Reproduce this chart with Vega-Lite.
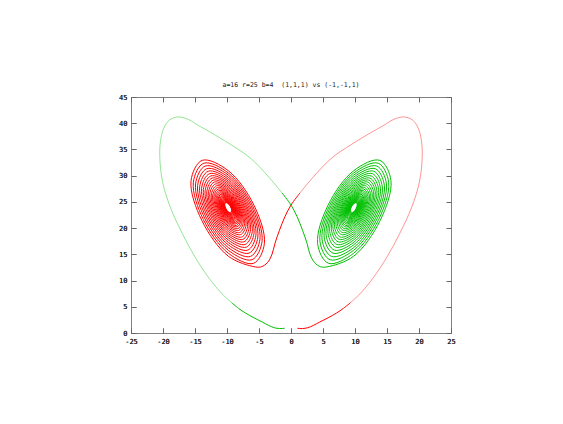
{
"$schema": "https://vega.github.io/schema/vega-lite/v6.json",
"width": 320,
"height": 236,
"autosize": {"type": "none"},
"padding": {"left": 131, "top": 97, "right": 112, "bottom": 91},
"background": "white",
"title": {"text": "a=16 r=25 b=4\u00a0 (1,1,1) vs (-1,-1,1)", "font": "DejaVu Sans Mono", "fontSize": 6.5, "fontWeight": "normal", "color": "#222222", "offset": 5},
"data": {"values": "traj,seg,x,z\npos,a,1.0,0.9\npos,a,1.8,0.85\npos,a,2.6,1.0\npos,a,3.5,1.45\npos,a,4.5,2.1\npos,a,5.8,2.9\npos,a,7.1,3.8\npos,a,8.2,4.7\npos,a,9.3,5.8\npos,b,9.3,5.8\npos,b,10.8,7.5\npos,b,12.9,10.6\npos,b,15.0,14.5\npos,b,17.0,19.0\npos,b,18.9,24.1\npos,b,20.1,29.0\npos,b,20.5,33.5\npos,b,20.4,36.5\npos,b,19.9,39.0\npos,b,19.0,40.6\npos,b,17.6,41.2\npos,b,16.0,40.7\npos,b,14.5,39.6\npos,b,12.9,38.5\npos,b,9.5,36.0\npos,b,6.3,33.3\npos,b,3.3,29.5\npos,b,1.4,26.7\npos,c,1.4,26.7\npos,c,0,24.4\npos,c,-0.94,22.2\npos,c,-1.8,19.6\npos,c,-2.5,17.1\npos,c,-3.0,14.9\npos,c,-3.7,13.4\npos,c,-4.58,12.65\npos,c,-5.59,12.60\npos,c,-9.8,14.65\npos,c,-13.94,21.47\npos,c,-15.62,29.02\npos,c,-13.88,32.92\npos,c,-9.8,30.95\npos,c,-5.78,24.35\npos,c,-4.16,17.05\npos,c,-5.85,13.29\npos,c,-9.8,15.22\npos,c,-13.69,21.62\npos,c,-15.26,28.72\npos,c,-13.63,32.37\npos,c,-9.8,30.52\npos,c,-6.04,24.33\npos,c,-4.52,17.49\npos,c,-6.10,13.97\npos,c,-9.8,15.78\npos,c,-13.44,21.77\npos,c,-14.91,28.42\npos,c,-13.39,31.84\npos,c,-9.8,30.11\npos,c,-6.27,24.31\npos,c,-4.85,17.89\npos,c,-6.33,14.60\npos,c,-9.8,16.29\npos,c,-13.21,21.91\npos,c,-14.59,28.13\npos,c,-13.16,31.33\npos,c,-9.8,29.71\npos,c,-6.50,24.29\npos,c,-5.18,18.30\npos,c,-6.56,15.23\npos,c,-9.8,16.81\npos,c,-12.99,22.05\npos,c,-14.27,27.86\npos,c,-12.93,30.85\npos,c,-9.8,29.33\npos,c,-6.72,24.27\npos,c,-5.48,18.67\npos,c,-6.77,15.80\npos,c,-9.8,17.28\npos,c,-12.78,22.18\npos,c,-13.97,27.60\npos,c,-12.72,30.39\npos,c,-9.8,28.97\npos,c,-6.93,24.25\npos,c,-5.78,19.04\npos,c,-6.98,16.37\npos,c,-9.8,17.74\npos,c,-12.57,22.31\npos,c,-13.69,27.36\npos,c,-12.52,29.95\npos,c,-9.8,28.63\npos,c,-7.12,24.24\npos,c,-6.05,19.37\npos,c,-7.17,16.88\npos,c,-9.8,18.17\npos,c,-12.38,22.42\npos,c,-13.42,27.13\npos,c,-12.33,29.54\npos,c,-9.8,28.31\npos,c,-7.31,24.22\npos,c,-6.32,19.70\npos,c,-7.36,17.39\npos,c,-9.8,18.58\npos,c,-12.20,22.53\npos,c,-13.16,26.90\npos,c,-12.16,29.15\npos,c,-9.8,28.01\npos,c,-7.49,24.20\npos,c,-6.56,20.00\npos,c,-7.53,17.85\npos,c,-9.8,18.96\npos,c,-12.03,22.64\npos,c,-12.92,26.70\npos,c,-11.99,28.78\npos,c,-9.8,27.72\npos,c,-7.65,24.19\npos,c,-6.80,20.29\npos,c,-7.70,18.30\npos,c,-9.8,19.34\npos,c,-11.86,22.74\npos,c,-12.69,26.49\npos,c,-11.82,28.41\npos,c,-9.8,27.43\npos,c,-7.82,24.17\npos,c,-7.03,20.59\npos,c,-7.87,18.76\npos,c,-9.8,19.71\npos,c,-11.70,22.84\npos,c,-12.46,26.30\npos,c,-11.66,28.07\npos,c,-9.8,27.16\npos,c,-7.98,24.16\npos,c,-7.25,20.85\npos,c,-8.01,19.16\npos,c,-9.8,20.04\npos,c,-11.55,22.93\npos,c,-12.25,26.12\npos,c,-11.51,27.75\npos,c,-9.8,26.91\npos,c,-8.12,24.15\npos,c,-7.45,21.11\npos,c,-8.16,19.56\npos,c,-9.8,20.36\npos,c,-11.41,23.02\npos,c,-12.05,25.95\npos,c,-11.38,27.45\npos,c,-9.8,26.68\npos,c,-8.25,24.14\npos,c,-7.64,21.33\npos,c,-8.29,19.90\npos,c,-9.8,20.64\npos,c,-11.28,23.09\npos,c,-11.88,25.79\npos,c,-11.25,27.17\npos,c,-9.8,26.46\npos,c,-8.38,24.13\npos,c,-7.81,21.55\npos,c,-8.41,20.24\npos,c,-9.8,20.92\npos,c,-11.16,23.17\npos,c,-11.71,25.65\npos,c,-11.14,26.92\npos,c,-9.8,26.27\npos,c,-8.49,24.12\npos,c,-7.97,21.74\npos,c,-8.52,20.52\npos,c,-9.8,21.16\npos,c,-11.06,23.23\npos,c,-11.56,25.52\npos,c,-11.03,26.69\npos,c,-9.8,26.09\npos,c,-8.60,24.11\npos,c,-8.12,21.92\npos,c,-8.62,20.81\npos,c,-9.8,21.39\npos,c,-10.96,23.29\npos,c,-11.42,25.40\npos,c,-10.94,26.48\npos,c,-9.8,25.93\npos,c,-8.69,24.10\npos,c,-8.24,22.07\npos,c,-8.71,21.04\npos,c,-9.8,21.57\npos,c,-10.87,23.34\npos,c,-11.30,25.30\npos,c,-10.85,26.30\npos,c,-9.8,25.79\npos,c,-8.77,24.09\npos,c,-8.36,22.22\npos,c,-8.79,21.27\npos,c,-9.8,21.76\npos,c,-10.79,23.40\npos,c,-11.18,25.20\npos,c,-10.77,26.12\npos,c,-9.8,25.64\npos,c,-8.85,24.08\npos,c,-8.48,22.37\npos,c,-8.87,21.49\npos,c,-9.8,21.95\npos,c,-10.71,23.44\npos,c,-11.08,25.10\npos,c,-10.69,25.95\npos,c,-9.8,25.52\npos,c,-8.92,24.08\npos,c,-8.57,22.48\npos,c,-8.94,21.66\npos,c,-9.8,22.09\npos,c,-10.65,23.48\npos,c,-10.99,25.02\npos,c,-10.63,25.82\npos,c,-9.8,25.41\npos,c,-8.98,24.07\npos,c,-8.66,22.59\npos,c,-9.00,21.83\npos,c,-9.8,22.23\npos,c,-10.58,23.52\npos,c,-10.90,24.95\npos,c,-10.57,25.68\npos,c,-9.8,25.30\npos,c,-9.05,24.07\npos,c,-8.75,22.70\npos,c,-9.06,22.01\npos,c,-9.8,22.37\npos,c,-10.52,23.56\npos,c,-10.81,24.87\npos,c,-10.50,25.54\npos,c,-9.8,25.20\npos,c,-9.11,24.06\npos,c,-8.84,22.81\npos,c,-9.13,22.18\npos,c,-9.8,22.51\npos,c,-10.46,23.60\npos,c,-10.73,24.80\npos,c,-10.45,25.42\npos,c,-9.8,25.10\npos,c,-9.16,24.06\npos,c,-8.91,22.90\npos,c,-9.18,22.31\npos,c,-9.8,22.62\npos,c,-10.41,23.63\npos,c,-10.65,24.74\npos,c,-10.40,25.31\npos,c,-9.8,25.01\npos,c,-9.22,24.05\npos,c,-8.98,22.99\npos,c,-9.23,22.45\npos,c,-9.8,22.73\npos,c,-10.36,23.66\npos,c,-10.59,24.68\npos,c,-10.35,25.20\npos,c,-9.8,24.93\npos,c,-9.26,24.05\npos,c,-9.05,23.07\npos,c,-9.27,22.58\npos,c,-9.8,22.83\npos,c,-10.32,23.69\npos,c,-10.52,24.62\npos,c,-10.30,25.10\npos,c,-9.8,24.86\npos,c,-9.31,24.04\npos,c,-9.11,23.15\npos,c,-9.32,22.69\npos,c,-9.8,22.93\npos,c,-10.27,23.71\npos,c,-10.46,24.57\npos,c,-10.26,25.01\npos,c,-9.8,24.79\npos,c,-9.35,24.04\npos,c,-9.17,23.22\npos,c,-9.36,22.80\npos,c,-9.8,23.02\npos,c,-10.23,23.74\npos,c,-10.40,24.52\npos,c,-10.22,24.92\npos,c,-9.8,24.71\npos,c,-9.39,24.04\npos,c,-9.23,23.29\npos,c,-9.40,22.92\npos,c,-9.8,23.11\npos,c,-10.19,23.76\npos,c,-10.35,24.48\npos,c,-10.19,24.84\npos,c,-9.8,24.65\npos,c,-9.42,24.03\npos,c,-9.27,23.35\npos,c,-9.43,23.00\nneg,a,-1.0,0.9\nneg,a,-1.8,0.85\nneg,a,-2.6,1.0\nneg,a,-3.5,1.45\nneg,a,-4.5,2.1\nneg,a,-5.8,2.9\nneg,a,-7.1,3.8\nneg,a,-8.2,4.7\nneg,a,-9.3,5.8\nneg,b,-9.3,5.8\nneg,b,-10.8,7.5\nneg,b,-12.9,10.6\nneg,b,-15.0,14.5\nneg,b,-17.0,19.0\nneg,b,-18.9,24.1\nneg,b,-20.1,29.0\nneg,b,-20.5,33.5\nneg,b,-20.4,36.5\nneg,b,-19.9,39.0\nneg,b,-19.0,40.6\nneg,b,-17.6,41.2\nneg,b,-16.0,40.7\nneg,b,-14.5,39.6\nneg,b,-12.9,38.5\nneg,b,-9.5,36.0\nneg,b,-6.3,33.3\nneg,b,-3.3,29.5\nneg,b,-1.4,26.7\nneg,c,-1.4,26.7\nneg,c,0,24.4\nneg,c,0.94,22.2\nneg,c,1.8,19.6\nneg,c,2.5,17.1\nneg,c,3.0,14.9\nneg,c,3.7,13.4\nneg,c,4.58,12.65\nneg,c,5.59,12.60\nneg,c,9.8,14.65\nneg,c,13.94,21.47\nneg,c,15.62,29.02\nneg,c,13.88,32.92\nneg,c,9.8,30.95\nneg,c,5.78,24.35\nneg,c,4.16,17.05\nneg,c,5.85,13.29\nneg,c,9.8,15.22\nneg,c,13.69,21.62\nneg,c,15.26,28.72\nneg,c,13.63,32.37\nneg,c,9.8,30.52\nneg,c,6.04,24.33\nneg,c,4.52,17.49\nneg,c,6.10,13.97\nneg,c,9.8,15.78\nneg,c,13.44,21.77\nneg,c,14.91,28.42\nneg,c,13.39,31.84\nneg,c,9.8,30.11\nneg,c,6.27,24.31\nneg,c,4.85,17.89\nneg,c,6.33,14.60\nneg,c,9.8,16.29\nneg,c,13.21,21.91\nneg,c,14.59,28.13\nneg,c,13.16,31.33\nneg,c,9.8,29.71\nneg,c,6.50,24.29\nneg,c,5.18,18.30\nneg,c,6.56,15.23\nneg,c,9.8,16.81\nneg,c,12.99,22.05\nneg,c,14.27,27.86\nneg,c,12.93,30.85\nneg,c,9.8,29.33\nneg,c,6.72,24.27\nneg,c,5.48,18.67\nneg,c,6.77,15.80\nneg,c,9.8,17.28\nneg,c,12.78,22.18\nneg,c,13.97,27.60\nneg,c,12.72,30.39\nneg,c,9.8,28.97\nneg,c,6.93,24.25\nneg,c,5.78,19.04\nneg,c,6.98,16.37\nneg,c,9.8,17.74\nneg,c,12.57,22.31\nneg,c,13.69,27.36\nneg,c,12.52,29.95\nneg,c,9.8,28.63\nneg,c,7.12,24.24\nneg,c,6.05,19.37\nneg,c,7.17,16.88\nneg,c,9.8,18.17\nneg,c,12.38,22.42\nneg,c,13.42,27.13\nneg,c,12.33,29.54\nneg,c,9.8,28.31\nneg,c,7.31,24.22\nneg,c,6.32,19.70\nneg,c,7.36,17.39\nneg,c,9.8,18.58\nneg,c,12.20,22.53\nneg,c,13.16,26.90\nneg,c,12.16,29.15\nneg,c,9.8,28.01\nneg,c,7.49,24.20\nneg,c,6.56,20.00\nneg,c,7.53,17.85\nneg,c,9.8,18.96\nneg,c,12.03,22.64\nneg,c,12.92,26.70\nneg,c,11.99,28.78\nneg,c,9.8,27.72\nneg,c,7.65,24.19\nneg,c,6.80,20.29\nneg,c,7.70,18.30\nneg,c,9.8,19.34\nneg,c,11.86,22.74\nneg,c,12.69,26.49\nneg,c,11.82,28.41\nneg,c,9.8,27.43\nneg,c,7.82,24.17\nneg,c,7.03,20.59\nneg,c,7.87,18.76\nneg,c,9.8,19.71\nneg,c,11.70,22.84\nneg,c,12.46,26.30\nneg,c,11.66,28.07\nneg,c,9.8,27.16\nneg,c,7.98,24.16\nneg,c,7.25,20.85\nneg,c,8.01,19.16\nneg,c,9.8,20.04\nneg,c,11.55,22.93\nneg,c,12.25,26.12\nneg,c,11.51,27.75\nneg,c,9.8,26.91\nneg,c,8.12,24.15\nneg,c,7.45,21.11\nneg,c,8.16,19.56\nneg,c,9.8,20.36\nneg,c,11.41,23.02\nneg,c,12.05,25.95\nneg,c,11.38,27.45\nneg,c,9.8,26.68\nneg,c,8.25,24.14\nneg,c,7.64,21.33\nneg,c,8.29,19.90\nneg,c,9.8,20.64\nneg,c,11.28,23.09\nneg,c,11.88,25.79\nneg,c,11.25,27.17\nneg,c,9.8,26.46\nneg,c,8.38,24.13\nneg,c,7.81,21.55\nneg,c,8.41,20.24\nneg,c,9.8,20.92\nneg,c,11.16,23.17\nneg,c,11.71,25.65\nneg,c,11.14,26.92\nneg,c,9.8,26.27\nneg,c,8.49,24.12\nneg,c,7.97,21.74\nneg,c,8.52,20.52\nneg,c,9.8,21.16\nneg,c,11.06,23.23\nneg,c,11.56,25.52\nneg,c,11.03,26.69\nneg,c,9.8,26.09\nneg,c,8.60,24.11\nneg,c,8.12,21.92\nneg,c,8.62,20.81\nneg,c,9.8,21.39\nneg,c,10.96,23.29\nneg,c,11.42,25.40\nneg,c,10.94,26.48\nneg,c,9.8,25.93\nneg,c,8.69,24.10\nneg,c,8.24,22.07\nneg,c,8.71,21.04\nneg,c,9.8,21.57\nneg,c,10.87,23.34\nneg,c,11.30,25.30\nneg,c,10.85,26.30\nneg,c,9.8,25.79\nneg,c,8.77,24.09\nneg,c,8.36,22.22\nneg,c,8.79,21.27\nneg,c,9.8,21.76\nneg,c,10.79,23.40\nneg,c,11.18,25.20\nneg,c,10.77,26.12\nneg,c,9.8,25.64\nneg,c,8.85,24.08\nneg,c,8.48,22.37\nneg,c,8.87,21.49\nneg,c,9.8,21.95\nneg,c,10.71,23.44\nneg,c,11.08,25.10\nneg,c,10.69,25.95\nneg,c,9.8,25.52\nneg,c,8.92,24.08\nneg,c,8.57,22.48\nneg,c,8.94,21.66\nneg,c,9.8,22.09\nneg,c,10.65,23.48\nneg,c,10.99,25.02\nneg,c,10.63,25.82\nneg,c,9.8,25.41\nneg,c,8.98,24.07\nneg,c,8.66,22.59\nneg,c,9.00,21.83\nneg,c,9.8,22.23\nneg,c,10.58,23.52\nneg,c,10.90,24.95\nneg,c,10.57,25.68\nneg,c,9.8,25.30\nneg,c,9.05,24.07\nneg,c,8.75,22.70\nneg,c,9.06,22.01\nneg,c,9.8,22.37\nneg,c,10.52,23.56\nneg,c,10.81,24.87\nneg,c,10.50,25.54\nneg,c,9.8,25.20\nneg,c,9.11,24.06\nneg,c,8.84,22.81\nneg,c,9.13,22.18\nneg,c,9.8,22.51\nneg,c,10.46,23.60\nneg,c,10.73,24.80\nneg,c,10.45,25.42\nneg,c,9.8,25.10\nneg,c,9.16,24.06\nneg,c,8.91,22.90\nneg,c,9.18,22.31\nneg,c,9.8,22.62\nneg,c,10.41,23.63\nneg,c,10.65,24.74\nneg,c,10.40,25.31\nneg,c,9.8,25.01\nneg,c,9.22,24.05\nneg,c,8.98,22.99\nneg,c,9.23,22.45\nneg,c,9.8,22.73\nneg,c,10.36,23.66\nneg,c,10.59,24.68\nneg,c,10.35,25.20\nneg,c,9.8,24.93\nneg,c,9.26,24.05\nneg,c,9.05,23.07\nneg,c,9.27,22.58\nneg,c,9.8,22.83\nneg,c,10.32,23.69\nneg,c,10.52,24.62\nneg,c,10.30,25.10\nneg,c,9.8,24.86\nneg,c,9.31,24.04\nneg,c,9.11,23.15\nneg,c,9.32,22.69\nneg,c,9.8,22.93\nneg,c,10.27,23.71\nneg,c,10.46,24.57\nneg,c,10.26,25.01\nneg,c,9.8,24.79\nneg,c,9.35,24.04\nneg,c,9.17,23.22\nneg,c,9.36,22.80\nneg,c,9.8,23.02\nneg,c,10.23,23.74\nneg,c,10.40,24.52\nneg,c,10.22,24.92\nneg,c,9.8,24.71\nneg,c,9.39,24.04\nneg,c,9.23,23.29\nneg,c,9.40,22.92\nneg,c,9.8,23.11\nneg,c,10.19,23.76\nneg,c,10.35,24.48\nneg,c,10.19,24.84\nneg,c,9.8,24.65\nneg,c,9.42,24.03\nneg,c,9.27,23.35\nneg,c,9.43,23.00", "format": {"type": "csv", "parse": {"x": "number", "z": "number"}}},
"encoding": {
"x": {"field": "x", "type": "quantitative", "scale": {"domain": [-25, 25], "nice": false, "zero": false}, "axis": {"orient": "bottom", "title": null, "values": [-25, -20, -15, -10, -5, 0, 5, 10, 15, 20, 25], "labelExpr": "'' + datum.value", "labelPadding": 9, "labelFlush": false}},
"y": {"field": "z", "type": "quantitative", "scale": {"domain": [0, 45], "nice": false, "zero": false}, "axis": {"orient": "left", "title": null, "values": [0, 5, 10, 15, 20, 25, 30, 35, 40, 45], "labelExpr": "'' + datum.value", "labelPadding": 9, "labelFlush": false}},
"color": {"field": "traj", "type": "nominal", "scale": {"domain": ["pos", "neg"], "range": ["#ff0000", "#00c000"]}, "legend": null},
"detail": {"field": "seg", "type": "nominal"},
"order": {"value": null}
},
"layer": [
{
"transform": [{"filter": "datum.seg === 'b'"}],
"mark": {"type": "line", "interpolate": "catmull-rom", "strokeWidth": 1, "opacity": 0.42, "clip": true}
},
{
"transform": [{"filter": "datum.seg !== 'b'"}],
"mark": {"type": "line", "interpolate": "catmull-rom", "strokeWidth": 1, "opacity": 1, "clip": true}
},
{
"data": {"values": [{"x": 0, "z": 0}]},
"mark": {"type": "point", "opacity": 0},
"encoding": {
"x": {"field": "x", "type": "quantitative", "axis": {"orient": "top", "title": null, "labels": false, "values": [-25, -20, -15, -10, -5, 0, 5, 10, 15, 20, 25]}},
"y": {"field": "z", "type": "quantitative", "axis": {"orient": "right", "title": null, "labels": false, "values": [0, 5, 10, 15, 20, 25, 30, 35, 40, 45]}},
"color": {"value": "transparent"},
"detail": null,
"order": null
}
}
],
"resolve": {"axis": {"x": "independent", "y": "independent"}},
"config": {
"view": {"stroke": "#808080", "strokeWidth": 1},
"axis": {"domain": false, "grid": false, "ticks": true, "tickSize": -5, "tickColor": "#666666", "tickWidth": 1, "labelFont": "DejaVu Sans Mono", "labelFontSize": 7, "labelColor": "#222222"}
}
}
